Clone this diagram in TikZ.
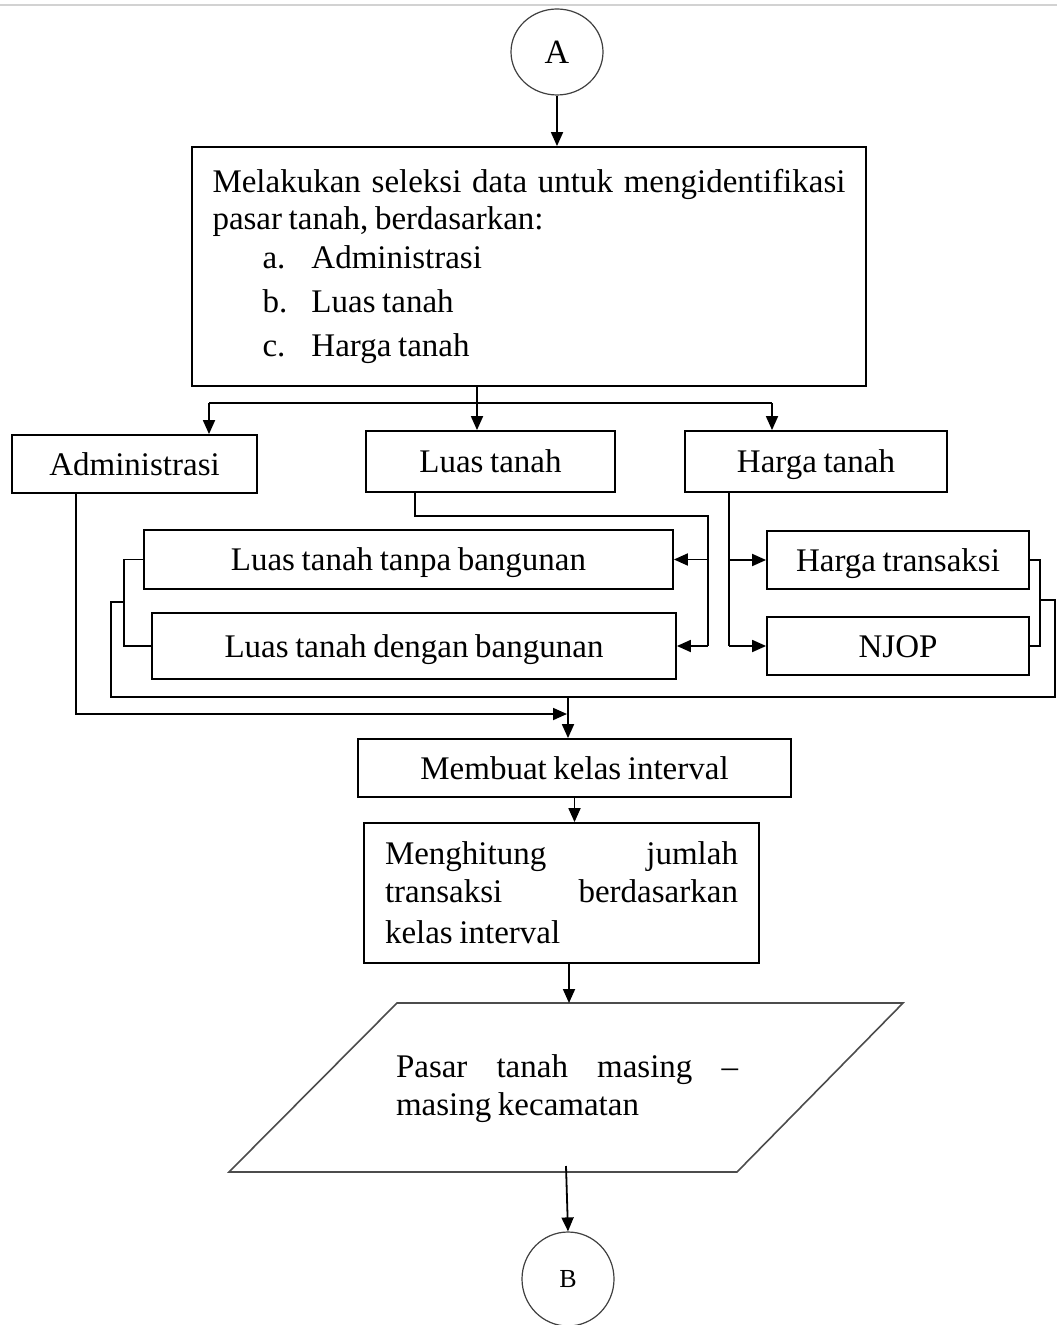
\documentclass[tikz,border=0pt]{standalone}
\usepackage{fontspec}
\setmainfont[WordSpace=0.8]{Liberation Serif}
\usetikzlibrary{arrows.meta,shapes.geometric,calc}
\newcommand{\jline}[2]{\leavevmode\hbox to #1{#2}}
\newcommand{\natsp}{\spaceskip=0pt\xspaceskip=0pt\relax}
\begin{document}
\begin{tikzpicture}[x=0.5pt,y=-0.5pt,
  font=\fontsize{16.5}{19}\selectfont,
  box/.style={draw=black, line width=0.9pt, rectangle, inner sep=0pt, align=center},
  one/.style={box, text height=14pt, text depth=3pt},
  conn/.style={draw=black, line width=0.9pt},
  arr/.style={conn, -{Triangle[length=7pt,width=6pt]}},
  term/.style={draw=black!75, line width=0.6pt, ellipse, inner sep=0pt}]
\useasboundingbox (0,0) rectangle (1057,1325);
\fill[white] (0,0) rectangle (1057,1325);
\draw[gray!35, line width=1.2pt] (0,5) -- (1057,5);

% nodes
\node[term, minimum width=46pt, minimum height=43pt] (A) at (557,52) {\fontsize{17}{19}\selectfont A};
\node[box, minimum width=337pt, minimum height=119.5pt, text width=316.5pt, align=left] (b1) at (529,266.5)
 {\natsp\jline{316.5pt}{Melakukan\hfill seleksi\hfill data\hfill untuk\hfill mengidentifikasi}\\[-0.5pt]
  pasar tanah, berdasarkan:\\[0.5pt]
  \hspace*{25pt}\makebox[24.5pt][l]{a.}Administrasi\\[3pt]
  \hspace*{25pt}\makebox[24.5pt][l]{b.}Luas tanah\\[3pt]
  \hspace*{25pt}\makebox[24.5pt][l]{c.}Harga tanah};
\node[one, minimum width=122.5pt, minimum height=29pt] (adm) at (134.5,464) {Administrasi};
\node[one, minimum width=124.5pt, minimum height=30.5pt] (lt) at (490.5,461.5) {Luas tanah};
\node[one, minimum width=131pt, minimum height=30.5pt] (ht) at (816,461.5) {Harga tanah};
\node[one, minimum width=264.5pt, minimum height=29.5pt] (lp) at (408.5,559.5) {Luas tanah tanpa bangunan};
\node[one, minimum width=262pt, minimum height=33pt] (ld) at (414,646) {Luas tanah dengan bangunan};
\node[one, minimum width=131pt, minimum height=29pt] (tr) at (898,560) {Harga transaksi};
\node[one, minimum width=131pt, minimum height=29pt] (nj) at (898,646) {NJOP};
\node[one, minimum width=216.5pt, minimum height=29pt] (mk) at (574.5,768) {Membuat kelas interval};
\node[box, minimum width=197.5pt, minimum height=70pt, text width=176.5pt, align=left] (mh) at (561.5,893)
 {\natsp\jline{176.5pt}{Menghitung\hfill jumlah}\\
  \jline{176.5pt}{transaksi\hfill berdasarkan}\\[1.5pt]
  kelas interval};
\draw[draw=black!70, line width=0.8pt] (229,1172) -- (397,1003) -- (903,1003) -- (737,1172) -- cycle;
\node[inner sep=0pt, text width=171pt, align=left] (pt) at (567,1089)
 {\natsp\jline{171pt}{Pasar\hfill tanah\hfill masing\hfill --}\\
  masing kecamatan};
\node[term, minimum width=46pt, minimum height=47pt] (B) at (568,1279) {\fontsize{13}{15}\selectfont B};

% helper coordinates
\coordinate (ja) at (209,403);
\coordinate (jl) at (477,403);
\coordinate (jh) at (772,403);
\coordinate (l1) at (415,516);
\coordinate (l2) at (708,516);
\coordinate (h1) at (729,647);
\coordinate (rb) at (1040,600);
\coordinate (rc) at (1055,697);
\coordinate (lb) at (124,602);
\coordinate (lc) at (111,697);
\coordinate (m1) at (568,697);
\coordinate (ad1) at (76,714);
\coordinate (ad2) at (567,714);
\coordinate (ptop) at (569,1003);
\coordinate (pbot) at (566,1166);

% connectors
\draw[arr] (A) -- (A.south |- b1.north);
\draw[arr] (b1.south -| jl) -- (lt.north -| jl);
\draw[conn] (ja) -- (jh);
\draw[arr] (ja) -- (ja |- adm.north);
\draw[arr] (jh) -- (jh |- ht.north);

\draw[conn] (lt.south -| l1) |- (l2) -- (l2 |- ld.east);
\draw[arr] (l2 |- lp.east) -- (lp.east);
\draw[arr] (l2 |- ld.east) -- (ld.east);

\draw[conn] (ht.south -| h1) -- (h1 |- nj.west);
\draw[arr] (h1 |- tr.west) -- (tr.west);
\draw[arr] (h1 |- nj.west) -- (nj.west);

\draw[conn] (tr.east) -| (rb) |- (nj.east);
\draw[conn] (rb) -| (rc) -- (lc) |- (lb);
\draw[conn] (lp.west) -| (lb) |- (ld.west);

\draw[arr] (m1) -- (m1 |- mk.north);
\draw[arr] (adm.south -| ad1) |- (ad2);

\draw[arr] (mk.south) -- (mk.south |- mh.north);
\draw[arr] (mh.south -| ptop) -- (ptop);
\draw[arr] (pbot) -- (B.north);
\end{tikzpicture}
\end{document}
